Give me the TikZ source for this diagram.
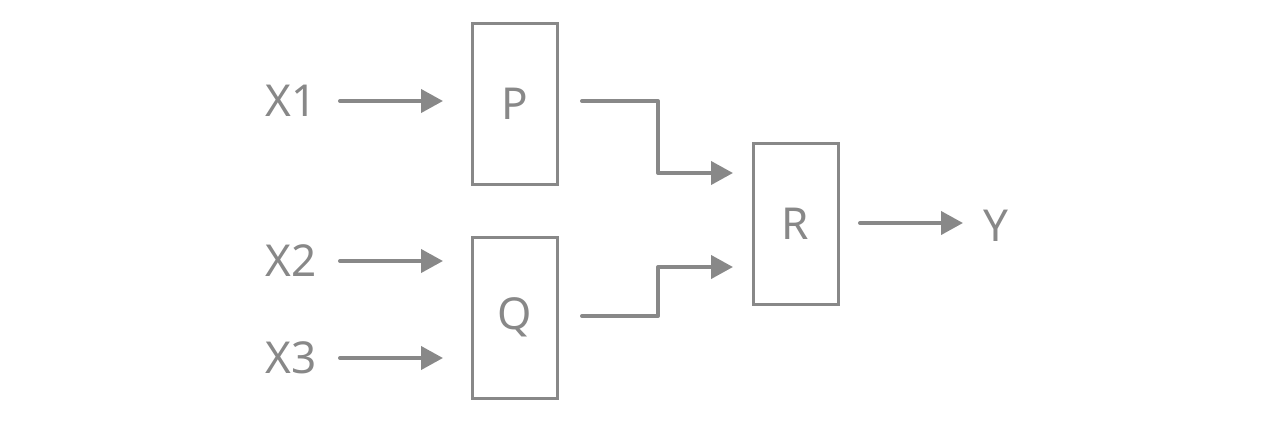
\documentclass[tikz,border=0pt]{standalone}
\usepackage{fontspec}
\setmainfont{Noto Sans}
\usetikzlibrary{arrows.meta}
\definecolor{gr}{HTML}{888888}
\begin{document}
\begin{tikzpicture}[x=1pt,y=-1pt,
  blk/.style={draw=gr,line width=3pt,minimum width=85pt,minimum height=161pt,inner sep=0pt,text=gr,font=\fontsize{44}{48}\selectfont},
  lbl/.style={text=gr,font=\fontsize{44}{48}\selectfont,inner sep=0pt},
  conn/.style={draw=gr,line width=4pt,line cap=round,line join=round,-{Triangle[length=22pt,width=23pt]}}]
\useasboundingbox (0,0) rectangle (1274,424);
\node[blk] (P) at (514.5,103.5) {P};
\node[blk] (Q) at (514.5,317.5) {Q};
\node[blk] (R) at (795.5,223.5) {R};
\node[lbl] (X1) at (291,101) {X1};
\node[lbl] (X2) at (291,261) {X2};
\node[lbl] (X3) at (291,358) {X3};
\node[lbl] (Y) at (996,226) {Y};
\coordinate (x1s) at (340,101); \coordinate (x1e) at (443,101);
\coordinate (x2s) at (340,261); \coordinate (x2e) at (443,261);
\coordinate (x3s) at (340,358); \coordinate (x3e) at (443,358);
\coordinate (ps) at (582,101); \coordinate (pe) at (733,173);
\coordinate (qs) at (582,316); \coordinate (qe) at (733,267);
\coordinate (rs) at (860,223); \coordinate (re) at (963,223);
\draw[conn] (x1s) -- (x1e);
\draw[conn] (x2s) -- (x2e);
\draw[conn] (x3s) -- (x3e);
\draw[conn] (ps) -- (658,101) -- (658,173) -- (pe);
\draw[conn] (qs) -- (658,316) -- (658,267) -- (qe);
\draw[conn] (rs) -- (re);
\end{tikzpicture}
\end{document}
